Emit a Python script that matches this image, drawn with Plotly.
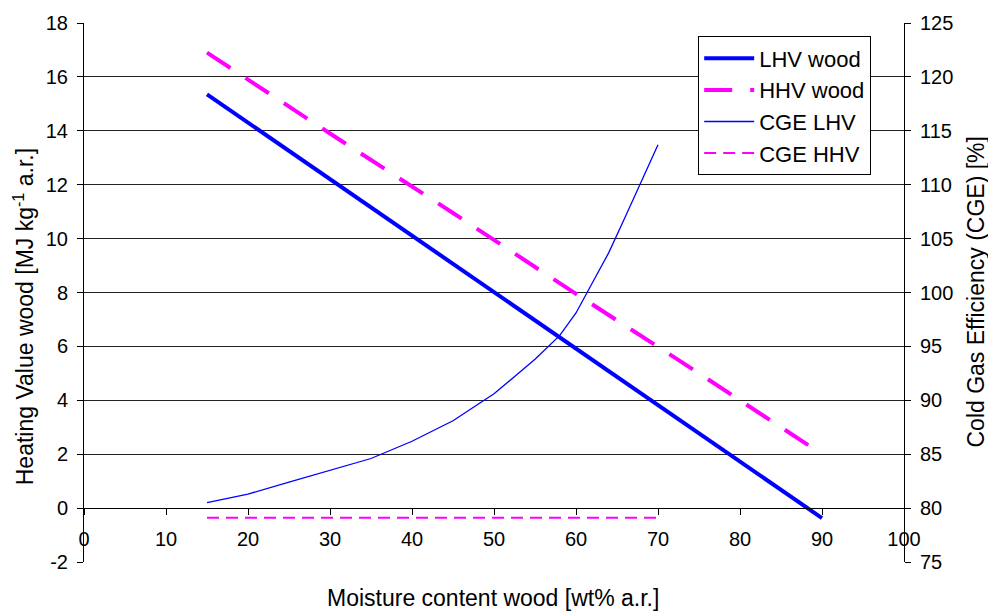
import plotly.graph_objects as go

# Data
hv_moisture = [15, 30, 45, 60, 75, 90]
lhv_wood = [15.35, 12.2, 9.05, 5.9, 2.75, -0.37]
hhv_wood = [16.9, 13.9, 10.95, 7.95, 5.0, 2.0]

cge_moisture = [15, 20, 25, 30, 35, 40, 45, 50, 52, 55, 58, 60, 62, 64, 66, 68, 70]
cge_lhv = [80.5, 81.3, 82.4, 83.5, 84.6, 86.2, 88.1, 90.6, 91.9, 93.8, 96.0, 98.1, 100.9, 103.7, 107.0, 110.3, 113.7]
cge_hhv_x = [15, 70]
cge_hhv = [79.1, 79.1]

x_ticks = list(range(0, 101, 10))
y_ticks = list(range(-2, 19, 2))
y_ticklabels = [str(v) for v in y_ticks]  # plain hyphen for "-2"
y2_ticks = list(range(75, 126, 5))

FONT = "Liberation Sans, Arial, sans-serif"
BLUE = "#0000FF"
MAGENTA = "#FF00FF"

fig = go.Figure()
fig.add_trace(go.Scatter(x=hv_moisture, y=lhv_wood, name="LHV wood", mode="lines",
                         line=dict(color=BLUE, width=4)))
fig.add_trace(go.Scatter(x=hv_moisture, y=hhv_wood, name="HHV wood", mode="lines",
                         line=dict(color=MAGENTA, width=4, dash="28px,18px")))
fig.add_trace(go.Scatter(x=cge_moisture, y=cge_lhv, name="CGE LHV", mode="lines",
                         line=dict(color=BLUE, width=1.3), yaxis="y2"))
fig.add_trace(go.Scatter(x=cge_hhv_x, y=cge_hhv, name="CGE HHV", mode="lines",
                         line=dict(color=MAGENTA, width=2, dash="12px,7px"), yaxis="y2"))

fig.update_layout(
    width=988, height=614,
    margin=dict(l=84, r=84, t=18, b=52),
    paper_bgcolor="white", plot_bgcolor="white",
    font=dict(family=FONT, size=20, color="black"),
    showlegend=True,
    legend=dict(x=0.749, y=0.975, xanchor="left", yanchor="top",
                bgcolor="white", bordercolor="black", borderwidth=1,
                font=dict(size=22), tracegroupgap=0, itemwidth=50),
    xaxis=dict(range=[0, 100], tickvals=x_ticks, anchor="free", position=0.1,
               showline=True, linecolor="black", linewidth=1,
               ticks="outside", ticklen=6, tickcolor="black",
               showgrid=False, zeroline=False, ticklabelstandoff=7),
    yaxis=dict(range=[-2, 18], tickvals=y_ticks, ticktext=y_ticklabels,
               showline=True, linecolor="black", linewidth=1,
               ticks="outside", ticklen=6, tickcolor="black",
               showgrid=True, gridcolor="#222222", gridwidth=1, zeroline=False,
               ticklabelstandoff=5),
    yaxis2=dict(range=[75, 125], tickvals=y2_ticks, overlaying="y", side="right",
                showline=True, linecolor="black", linewidth=1,
                ticks="outside", ticklen=6, tickcolor="black",
                showgrid=False, zeroline=False, ticklabelstandoff=5),
    annotations=[
        dict(text="Moisture content wood [wt% a.r.]", xref="paper", yref="paper",
             x=(493 - 84) / 820, y=-(598 - 562) / 544, xanchor="center", yanchor="middle",
             showarrow=False, font=dict(size=23)),
        dict(text="Heating Value wood [MJ kg<sup>-1</sup> a.r.]", xref="paper", yref="paper",
             x=-(84 - 24) / 820, y=1 - (315 - 18) / 544, xanchor="center", yanchor="middle",
             textangle=-90, showarrow=False, font=dict(size=23)),
        dict(text="Cold Gas Efficiency (CGE) [%]", xref="paper", yref="paper",
             x=1 + (975 - 904) / 820, y=1 - (290 - 18) / 544, xanchor="center", yanchor="middle",
             textangle=-90, showarrow=False, font=dict(size=23)),
    ],
)

fig.write_html("out.html")
